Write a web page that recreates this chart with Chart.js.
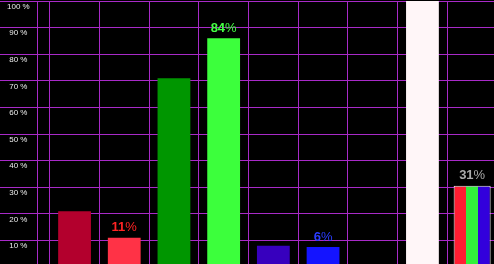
<!DOCTYPE html>
<html>
<head>
<meta charset="utf-8">
<script src="https://cdn.jsdelivr.net/npm/chart.js@4/dist/chart.umd.min.js"></script>
<style>
  html, body { margin: 0; padding: 0; background: #000; overflow: hidden; }
  canvas { display: block; }
</style>
</head>
<body>
<canvas id="levelChart" width="497" height="267"></canvas>
<script>
// first slot is the gutter that holds the y labels
const categories = ["", "R low", "R", "G low", "G", "B low", "B", "", "W", "RGB"];
const barValues = [null, 21, 11, 71, 86, 8, 7.5, null, 100, null];
const mixValues = [null, null, null, null, null, null, null, null, null, 30.5];
const barColors = ["#000", "#b3002d", "#ff3246", "#009600", "#3cff3c", "#3700be", "#1414ff", "#000", "#fff6f8", "#000"];
const valueLabels = [null, null, "11", null, "84", null, "6", null, null, "31"];
const labelColors = [null, null, "#ff2424", null, "#44ff44", null, "#2a3cff", null, null, "#aaaaaa"];
const stripeColors = ["#ff1e32", "#32f03c", "#3200dc"];

const gridColor = "#a82ac8";

function stripeFill(ctx) {
    const x = ctx.chart.scales.x;
    if (!x) return stripeColors[0];
    const c = x.getPixelForValue(ctx.dataIndex);
    const w = x.width / categories.length * 0.745;
    if (!isFinite(c) || !isFinite(w) || w <= 0) return stripeColors[0];
    const g = ctx.chart.ctx.createLinearGradient(c - w / 2 + 1, 0, c + w / 2 - 1, 0);
    stripeColors.forEach((col, i) => {
        g.addColorStop(i / 3, col);
        g.addColorStop((i + 1) / 3 - 0.001, col);
    });
    return g;
}

function noPadding(scale) {
    scale.paddingTop = 0;
    scale.paddingBottom = 0;
    scale.paddingLeft = 0;
    scale.paddingRight = 0;
}

const axisLinePlugin = {
    id: "axisLine",
    beforeDatasetsDraw(chart) {
        const c = chart.ctx;
        const a = chart.chartArea;
        c.save();
        c.strokeStyle = gridColor;
        c.lineWidth = 1;
        c.beginPath();
        c.moveTo(37.5, a.top);
        c.lineTo(37.5, a.bottom);
        c.stroke();
        c.restore();
    }
};

const valueLabelPlugin = {
    id: "valueLabels",
    afterDatasetsDraw(chart) {
        const c = chart.ctx;
        const boldFont = "bold 13px 'Liberation Sans', Arial, sans-serif";
        const thinFont = "13px 'Liberation Sans', Arial, sans-serif";
        categories.forEach((cat, i) => {
            const text = valueLabels[i];
            if (!text) return;
            const meta = chart.getDatasetMeta(mixValues[i] != null ? 1 : 0);
            const bar = meta.data[i];
            c.save();
            c.textBaseline = "middle";
            c.textAlign = "left";
            c.font = boldFont;
            const wNum = c.measureText(text).width;
            c.font = thinFont;
            const wPct = c.measureText("%").width;
            const x = bar.x - (wNum + wPct) / 2;
            const y = bar.y - 10;
            c.fillStyle = labelColors[i];
            c.font = boldFont;
            c.fillText(text, x, y);
            c.font = thinFont;
            c.fillText("%", x + wNum, y);
            c.restore();
        });
    }
};

function loadLevelChart() {

    const ctx =
        document.getElementById("levelChart");

    const chart = new Chart(ctx, {
        type: "bar",
        data: {
            labels: categories,
            datasets: [
                {
                    data: barValues,
                    backgroundColor: barColors,
                    borderWidth: 0,
                    barPercentage: 0.66,
                    categoryPercentage: 1
                },
                {
                    data: mixValues,
                    backgroundColor: stripeFill,
                    borderColor: "#f0f0f0",
                    borderWidth: 1,
                    barPercentage: 0.745,
                    categoryPercentage: 1
                }
            ]
        },
        options: {
            responsive: false,
            animation: false,
            grouped: false,
            layout: {
                padding: { top: 1, left: 0, right: 0, bottom: 0 }
            },
            plugins: {
                legend: { display: false },
                tooltip: { enabled: false }
            },
            scales: {
                x: {
                    grid: {
                        offset: true,
                        drawTicks: false,
                        color: (c) => c.index === 0 ? "rgba(0,0,0,0)" : gridColor
                    },
                    border: { display: false },
                    ticks: { display: false },
                    afterFit: (scale) => { scale.height = 0; noPadding(scale); }
                },
                y: {
                    min: 0,
                    max: 100,
                    grid: {
                        drawTicks: false,
                        color: gridColor
                    },
                    border: { display: false },
                    ticks: {
                        stepSize: 10,
                        mirror: true,
                        crossAlign: "center",
                        padding: 7,
                        labelOffset: 5.5,
                        color: "#ececec",
                        font: { size: 8, family: "'Liberation Sans', Arial, sans-serif" },
                        callback: (v) => v === 0 ? "" : v + " %"
                    },
                    afterFit: (scale) => { scale.width = 0; noPadding(scale); }
                }
            }
        },
        plugins: [axisLinePlugin, valueLabelPlugin]
    });

    // redraw once the scales are laid out so the striped fill is resolved
    chart.update();
}

loadLevelChart();
</script>
</body>
</html>
